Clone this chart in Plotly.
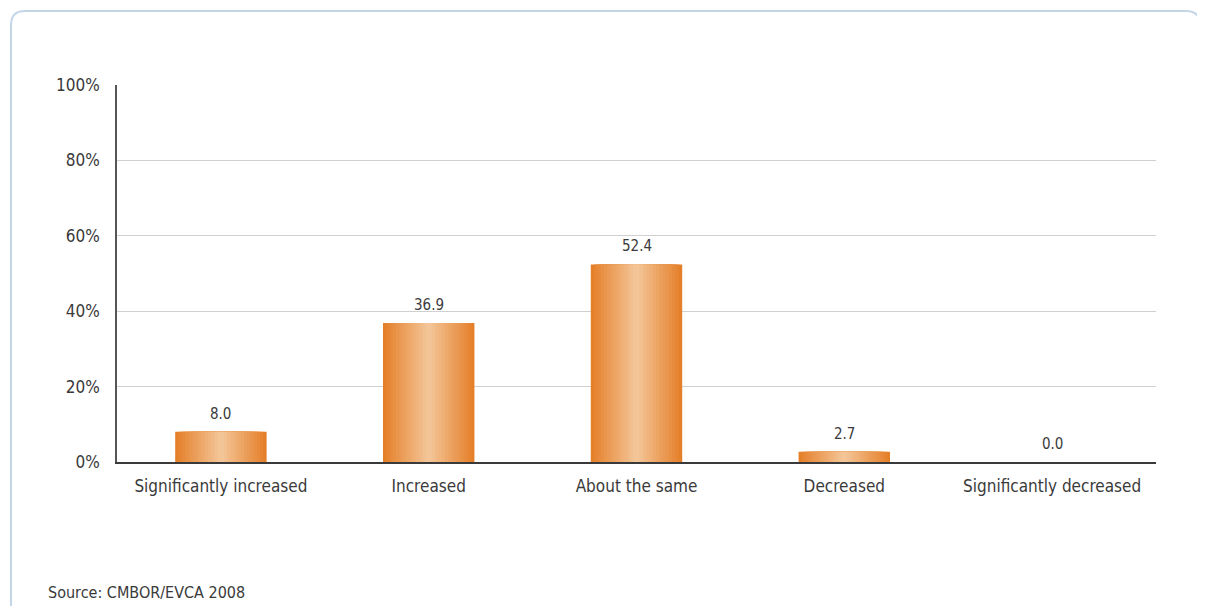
import plotly.graph_objects as go

categories = ["Significantly increased", "Increased", "About the same", "Decreased", "Significantly decreased"]
values = [8.0, 36.9, 52.4, 2.7, 0.0]
value_labels = ["8.0", "36.9", "52.4", "2.7", "0.0"]
y_tick_vals = [0, 20, 40, 60, 80, 100]
y_tick_text = ["0%", "20%", "40%", "60%", "80%", "100%"]
source_text = "Source: CMBOR/EVCA 2008"

# page body has an 8px margin, so the figure is drawn 8px in from the top-left
W, H = 1197, 598
L, R, T, B = 109, 49, 77, 144
FONT = "DejaVu Sans Condensed, Liberation Sans Narrow, Roboto, sans-serif"
TXT = "#3a3a3a"

edge = (229, 128, 42)
center = (243, 196, 150)

fig = go.Figure()

N = 14
full_w = 0.44
for k in range(N):
    t = k / (N - 1)
    c = tuple(round(edge[i] + (center[i] - edge[i]) * t) for i in range(3))
    w = full_w * (1 - k / N)
    fig.add_trace(go.Bar(
        x=categories, y=values, width=w,
        marker=dict(color="rgb(%d,%d,%d)" % c, line=dict(width=0)),
        showlegend=False, hoverinfo="skip" if k else "x+y",
    ))

for cat, v, lab in zip(categories, values, value_labels):
    fig.add_annotation(x=cat, y=v, text=lab, showarrow=False, yanchor="bottom",
                       yshift=7, font=dict(family=FONT, size=15, color=TXT))

def px(x):
    return (x - L) / (W - L - R)

def py(y):
    return (H - B - y) / (H - T - B)

fig.add_annotation(xref="paper", yref="paper", x=px(38), y=py(584),
                   xanchor="left", yanchor="middle", showarrow=False, text=source_text,
                   font=dict(family=FONT, size=16, color=TXT))

# rounded border
x0, x1, y0, y1, r = 3, 1192, 3, 640, 14
path = (f"M {px(x0)},{py(y1)} L {px(x0)},{py(y0 + r)} Q {px(x0)},{py(y0)} {px(x0 + r)},{py(y0)} "
        f"L {px(x1 - r)},{py(y0)} Q {px(x1)},{py(y0)} {px(x1)},{py(y0 + r)} L {px(x1)},{py(y1)}")
fig.add_shape(type="path", xref="paper", yref="paper", path=path,
              line=dict(color="#c3d6e8", width=2))

fig.update_layout(
    width=W, height=H,
    margin=dict(l=L, r=R, t=T, b=B),
    barmode="overlay",
    plot_bgcolor="white", paper_bgcolor="white",
    font=dict(family=FONT, size=17, color=TXT),
    xaxis=dict(showline=True, linecolor="#3a3a3a", linewidth=1.5, ticks="", showgrid=False,
               ticklabelstandoff=8,
               tickfont=dict(family=FONT, size=17, color=TXT)),
    yaxis=dict(range=[0, 100], tickvals=y_tick_vals, ticktext=y_tick_text,
               showline=True, linecolor="#555555", linewidth=1.5,
               showgrid=True, gridcolor="#d0d0d0", gridwidth=1, zeroline=False,
               ticklabelstandoff=12, tickfont=dict(family=FONT, size=17, color=TXT)),
)

fig.write_html("out.html")
